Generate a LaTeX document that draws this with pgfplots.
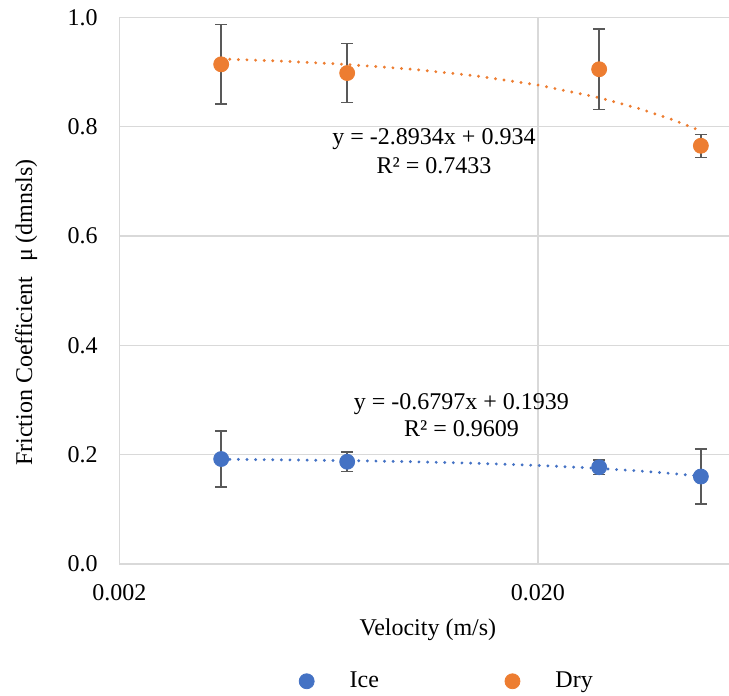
\documentclass[12pt,border=0pt]{standalone}
\usepackage{fontspec}
\setmainfont{Liberation Serif}
\usepackage{pgfplots}
\usepackage{pgfplotstable}
\pgfplotsset{compat=1.18}

\definecolor{icecol}{HTML}{4472C4}
\definecolor{drycol}{HTML}{ED7D31}
\definecolor{gridcol}{HTML}{D9D9D9}
\definecolor{errcol}{HTML}{595959}

% velocity (m/s), friction coefficient, error
\pgfplotstableread{
x      y      e
0.0035 0.192  0.051
0.0070 0.187  0.018
0.0280 0.177  0.013
0.0490 0.160  0.050
}\icedata
\pgfplotstableread{
x      y      e
0.0035 0.914  0.073
0.0070 0.898  0.054
0.0280 0.905  0.074
0.0490 0.765  0.021
}\drydata

\begin{document}
\begin{tikzpicture}
\begin{axis}[
  name=ax,
  scale only axis,
  width=304.75pt, height=273.35pt,
  xmode=log, log basis x=10,
  xmin=0.002, xmax=0.0572,
  ymin=0, ymax=1,
  xtick={0.002,0.02}, xticklabels={0.002,0.020},
  ytick={0,0.2,0.4,0.6,0.8,1.0},
  yticklabels={0.0,0.2,0.4,0.6,0.8,1.0},
  minor xtick={}, minor ytick={},
  major tick length=0pt,
  axis line style={draw=none},
  grid=major,
  major grid style={gridcol, line width=0.7pt},
  xticklabel style={yshift=-6pt},
  yticklabel style={xshift=-6.75pt},
  xlabel={Velocity (m/s)},
  xlabel style={at={(rel axis cs:0.506,-0.130)}, anchor=base},
  ylabel={Friction Coefficient\hspace{0.6em}μ (dmnsls)},
  ylabel style={at={(rel axis cs:-0.153,0.460)}, anchor=center, rotate=0},
  legend columns=2,
  legend style={at={(rel axis cs:0.539,-0.2145)}, anchor=center, draw=none, fill=none,
    /tikz/every even column/.append style={column sep=61pt}},
  legend image code/.code={\path[draw=none, fill=none] (-3.75pt,0pt) -- (19.5pt,0pt);
    \draw[#1] plot coordinates {(0pt,0pt)};},
]
% linear trendlines, evaluated from the fitted equations
\addplot[forget plot, icecol, line width=1.6pt, line cap=round, dash pattern=on 0pt off 4.3pt] coordinates {
  (0.0035,0.19152) (0.005,0.19050) (0.007,0.18914) (0.010,0.18710) (0.014,0.18438)
  (0.020,0.18031) (0.028,0.17487) (0.035,0.17011) (0.042,0.16535) (0.049,0.16059)};
\addplot[forget plot, drycol, line width=1.6pt, line cap=round, dash pattern=on 0pt off 4.3pt] coordinates {
  (0.0035,0.92387) (0.005,0.91953) (0.007,0.91375) (0.010,0.90507) (0.014,0.89349)
  (0.020,0.87613) (0.028,0.85298) (0.035,0.83273) (0.042,0.81248) (0.049,0.79222)};

\addplot[only marks, mark=*, mark size=3.75pt, color=icecol,
  error bars/.cd, y dir=both, y explicit,
  error bar style={errcol, line width=0.75pt},
  error mark options={rotate=90, errcol, mark size=3pt, line width=0.75pt}]
  table[x=x, y=y, y error=e] {\icedata};
\addlegendentry{Ice}
\addplot[only marks, mark=*, mark size=3.75pt, color=drycol,
  error bars/.cd, y dir=both, y explicit,
  error bar style={errcol, line width=0.75pt},
  error mark options={rotate=90, errcol, mark size=3pt, line width=0.75pt}]
  table[x=x, y=y, y error=e] {\drydata};
\addlegendentry{Dry}

\node[anchor=base] at (rel axis cs:0.516,0.7677) {y = -2.8934x + 0.934};
\node[anchor=base] at (rel axis cs:0.516,0.7147) {R² = 0.7433};
\node[anchor=base] at (rel axis cs:0.561,0.2830) {y = -0.6797x + 0.1939};
\node[anchor=base] at (rel axis cs:0.561,0.2329) {R² = 0.9609};
\end{axis}
\pgfresetboundingbox
\path[use as bounding box] ([xshift=-59.75pt,yshift=-66pt]ax.south west) rectangle ([yshift=8.65pt]ax.north east);
\end{tikzpicture}
\end{document}
